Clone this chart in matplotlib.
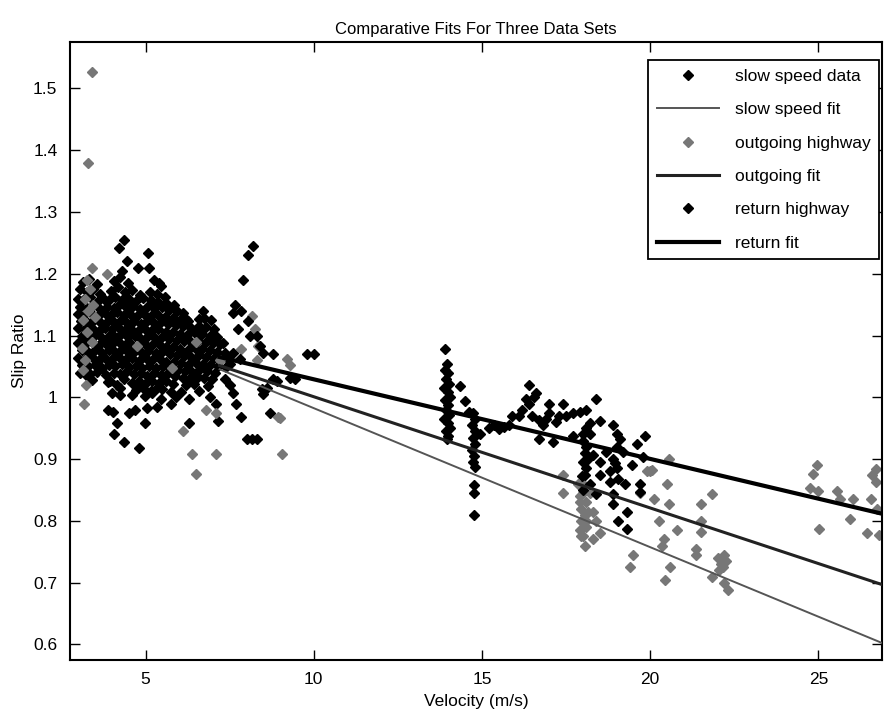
import matplotlib
matplotlib.use("Agg")
import matplotlib.pyplot as plt
from matplotlib.ticker import FuncFormatter

plt.rcParams['font.family'] = ['Liberation Sans', 'DejaVu Sans']

# velocity (m/s), slip ratio
slow_speed = [
    (3.15, 1.187), (3.32, 1.192), (3.55, 1.183), (4.05, 1.188), (4.25, 1.195), (4.48, 1.185), (5.25, 1.19), (5.45, 1.18),
    (3.05, 1.175), (3.25, 1.17), (3.45, 1.176), (3.65, 1.168), (3.98, 1.172), (4.18, 1.178), (4.38, 1.17), (4.6, 1.174),
    (4.82, 1.166), (5.12, 1.171), (5.35, 1.168), (5.58, 1.163),
    (3.0, 1.16), (3.15, 1.158), (3.35, 1.162), (3.55, 1.155), (3.75, 1.16), (3.92, 1.157), (4.1, 1.163), (4.3, 1.158),
    (4.52, 1.16), (4.72, 1.156), (4.93, 1.161), (5.15, 1.157), (5.38, 1.155), (5.62, 1.152), (5.85, 1.15),
    (3.05, 1.147), (3.25, 1.145), (3.45, 1.149), (3.65, 1.143), (3.85, 1.147), (4.05, 1.145), (4.22, 1.15), (4.42, 1.146),
    (4.62, 1.148), (4.83, 1.143), (5.03, 1.147), (5.25, 1.144), (5.48, 1.146), (5.7, 1.141), (5.92, 1.139), (6.12, 1.136),
    (3.0, 1.135), (3.18, 1.133), (3.38, 1.137), (3.58, 1.132), (3.78, 1.136), (3.97, 1.134), (4.16, 1.138), (4.35, 1.133),
    (4.55, 1.135), (4.75, 1.131), (4.95, 1.135), (5.15, 1.132), (5.37, 1.134), (5.58, 1.13), (5.8, 1.128), (6.02, 1.126),
    (6.25, 1.124), (6.75, 1.128), (6.95, 1.125),
    (3.08, 1.123), (3.28, 1.121), (3.48, 1.125), (3.68, 1.12), (3.88, 1.124), (4.07, 1.122), (4.26, 1.126), (4.45, 1.121),
    (4.65, 1.123), (4.85, 1.119), (5.05, 1.123), (5.26, 1.12), (5.47, 1.122), (5.68, 1.118), (5.9, 1.117), (6.12, 1.115),
    (6.35, 1.113), (6.58, 1.116), (6.8, 1.114), (7.02, 1.111),
    (3.0, 1.112), (3.2, 1.11), (3.4, 1.113), (3.6, 1.108), (3.8, 1.112), (4.0, 1.11), (4.18, 1.114), (4.38, 1.109),
    (4.57, 1.111), (4.77, 1.107), (4.97, 1.111), (5.17, 1.108), (5.38, 1.11), (5.6, 1.106), (5.8, 1.105), (6.02, 1.103),
    (6.24, 1.101), (6.46, 1.104), (6.68, 1.102), (6.9, 1.1), (7.12, 1.098),
    (3.1, 1.1), (3.3, 1.098), (3.5, 1.101), (3.7, 1.096), (3.9, 1.1), (4.1, 1.098), (4.28, 1.102), (4.48, 1.097),
    (4.67, 1.099), (4.87, 1.095), (5.07, 1.099), (5.28, 1.096), (5.5, 1.098), (5.7, 1.094), (5.92, 1.093), (6.13, 1.091),
    (6.35, 1.089), (6.57, 1.092), (6.79, 1.09), (7.0, 1.088), (7.22, 1.086),
    (3.0, 1.088), (3.2, 1.086), (3.4, 1.089), (3.6, 1.084), (3.8, 1.088), (4.0, 1.086), (4.2, 1.09), (4.38, 1.085),
    (4.58, 1.087), (4.78, 1.083), (4.98, 1.087), (5.18, 1.084), (5.4, 1.086), (5.6, 1.082), (5.82, 1.081), (6.03, 1.079),
    (6.25, 1.077), (6.47, 1.08), (6.68, 1.078), (6.9, 1.076), (7.12, 1.074), (7.35, 1.072),
    (3.1, 1.076), (3.3, 1.074), (3.5, 1.077), (3.7, 1.072), (3.9, 1.076), (4.1, 1.074), (4.3, 1.078), (4.48, 1.073),
    (4.68, 1.075), (4.88, 1.071), (5.08, 1.075), (5.3, 1.072), (5.5, 1.074), (5.72, 1.07), (5.93, 1.069), (6.14, 1.067),
    (6.36, 1.065), (6.58, 1.068), (6.8, 1.066), (7.02, 1.064), (7.25, 1.062), (7.48, 1.06),
    (3.0, 1.064), (3.2, 1.062), (3.4, 1.065), (3.6, 1.06), (3.8, 1.064), (4.0, 1.062), (4.2, 1.066), (4.4, 1.061),
    (4.6, 1.063), (4.8, 1.059), (5.0, 1.063), (5.2, 1.06), (5.42, 1.062), (5.62, 1.058), (5.84, 1.057), (6.05, 1.055),
    (6.27, 1.053), (6.49, 1.056), (6.7, 1.054), (6.92, 1.052), (7.14, 1.05), (7.38, 1.049),
    (3.1, 1.052), (3.3, 1.05), (3.5, 1.053), (3.7, 1.048), (3.9, 1.052), (4.1, 1.05), (4.3, 1.054), (4.5, 1.049),
    (4.7, 1.051), (4.9, 1.047), (5.1, 1.051), (5.32, 1.048), (5.52, 1.05), (5.74, 1.046), (5.95, 1.045), (6.16, 1.043),
    (6.38, 1.041), (6.6, 1.044), (6.82, 1.042), (7.05, 1.04),
    (3.05, 1.04), (3.35, 1.038), (3.55, 1.041), (3.82, 1.036), (4.05, 1.04), (4.25, 1.038), (4.45, 1.042), (4.65, 1.037),
    (4.85, 1.039), (5.05, 1.035), (5.25, 1.039), (5.45, 1.036), (5.65, 1.038), (5.88, 1.034), (6.1, 1.032), (6.3, 1.03),
    (6.55, 1.033), (6.75, 1.031), (6.98, 1.029),
    (3.4, 1.028), (3.95, 1.026), (4.35, 1.029), (4.6, 1.024), (4.8, 1.027), (5.0, 1.023), (5.2, 1.027), (5.4, 1.024),
    (5.6, 1.026), (5.8, 1.022), (6.2, 1.02), (6.45, 1.022), (6.85, 1.018),
    (4.25, 1.015), (4.7, 1.012), (4.95, 1.014), (5.15, 1.011), (5.5, 1.013), (5.75, 1.009), (6.05, 1.008), (6.6, 1.01),
    # scattered above and below the main cloud
    (4.2, 1.242), (4.35, 1.254), (5.06, 1.234), (4.46, 1.22), (4.3, 1.205), (4.76, 1.21), (5.1, 1.21), (5.4, 1.185),
    (6.7, 1.14), (6.6, 1.127), (6.2, 1.127),
    (3.27, 1.034), (3.87, 1.025), (4.14, 1.02), (4.0, 1.007), (4.23, 1.004), (4.6, 1.004), (3.87, 0.98), (4.02, 0.977),
    (4.14, 0.958), (4.05, 0.94), (4.37, 0.928), (4.8, 0.918), (4.52, 0.974), (4.67, 0.98), (4.97, 0.958), (4.97, 1.002),
    (5.03, 0.982), (5.33, 0.985), (5.33, 1.015), (4.88, 1.02), (5.2, 1.007), (5.74, 0.99), (5.47, 0.998), (6.3, 0.997),
    (6.3, 0.958), (7.1, 0.99), (7.15, 0.961), (5.9, 1.0), (6.9, 1.0),
]

outgoing = [
    (3.4, 1.527), (3.3, 1.38), (3.4, 1.21), (3.84, 1.2), (3.25, 1.19), (3.35, 1.175), (3.2, 1.16), (3.45, 1.15),
    (3.3, 1.14), (3.15, 1.125), (3.5, 1.13), (3.25, 1.105), (3.4, 1.09), (3.1, 1.08), (3.2, 1.06), (3.15, 1.045),
    (3.24, 1.02), (3.18, 0.99), (4.73, 1.083), (5.77, 1.047), (6.5, 1.09),
    (7.2, 1.06), (6.1, 0.945), (6.37, 0.909), (6.5, 0.876), (6.8, 0.98), (7.1, 0.975), (7.1, 0.909),
    (7.85, 1.078), (8.15, 1.132), (8.25, 1.11), (8.35, 1.083), (8.3, 1.06), (8.93, 0.969), (9.05, 0.909), (9.2, 1.062),
    (9.3, 1.052), (9.0, 0.966),
    (17.4, 0.875), (17.4, 0.845), (17.85, 0.86), (17.9, 0.84), (17.95, 0.82), (18.0, 0.8), (17.9, 0.785), (18.1, 0.83),
    (18.05, 0.81), (18.0, 0.86), (18.1, 0.79), (17.95, 0.775), (18.05, 0.76), (18.3, 0.77), (18.3, 0.815), (18.5, 0.78),
    (18.4, 0.8), (18.2, 0.845), (17.9, 0.83), (18.0, 0.845), (18.1, 0.8), (17.95, 0.8), (18.15, 0.815), (18.0, 0.775),
    (19.4, 0.725), (19.5, 0.745), (19.7, 0.845), (19.9, 0.88), (20.0, 0.88), (20.05, 0.883), (20.55, 0.9), (20.5, 0.86),
    (20.1, 0.835), (20.55, 0.828), (20.25, 0.8), (20.8, 0.785), (20.4, 0.77), (20.35, 0.76), (20.6, 0.725), (20.45, 0.705),
    (21.5, 0.828), (21.5, 0.8), (21.5, 0.782), (21.85, 0.844), (21.35, 0.755), (21.35, 0.745), (21.85, 0.71), (22.0, 0.74),
    (22.1, 0.73), (22.2, 0.745), (22.05, 0.72), (22.25, 0.735), (22.15, 0.725), (22.2, 0.7), (22.3, 0.688),
    (24.97, 0.89), (24.85, 0.876), (24.76, 0.853), (25.0, 0.849), (25.03, 0.787), (25.55, 0.849), (25.65, 0.836),
    (26.04, 0.836), (25.95, 0.803), (26.55, 0.836), (26.45, 0.78), (26.7, 0.884), (26.6, 0.875), (26.7, 0.863),
    (26.75, 0.82), (26.8, 0.777),
]

return_hwy = [
    (7.65, 1.15), (7.6, 1.137), (7.85, 1.14), (7.75, 1.11), (8.05, 1.123), (8.1, 1.099), (8.3, 1.1), (8.4, 1.083),
    (8.5, 1.071), (8.8, 1.07), (7.6, 1.071), (7.3, 1.088), (7.5, 1.054), (7.8, 1.062), (8.45, 1.013), (8.5, 1.005),
    (8.6, 1.015), (8.8, 1.03), (9.3, 1.031), (8.9, 1.026), (9.45, 1.03), (9.8, 1.07), (10.0, 1.07),
    (8.2, 1.245), (8.05, 1.23), (7.9, 1.19), (8.0, 0.933), (8.15, 0.933), (8.3, 0.933), (8.7, 0.974), (7.5, 1.02),
    (7.6, 1.007), (7.35, 1.03), (7.7, 0.99), (7.85, 0.969),
    (13.9, 1.078), (13.95, 1.054), (13.9, 1.045), (14.0, 1.04), (13.92, 1.03), (14.02, 1.022), (13.88, 1.015),
    (13.98, 1.008), (14.05, 1.0), (13.9, 0.995), (14.0, 0.988), (13.93, 0.98), (14.03, 0.972), (13.88, 0.965),
    (13.98, 0.958), (14.05, 0.95), (13.92, 0.945), (14.0, 0.938), (13.95, 0.932), (14.35, 1.018), (14.5, 0.994),
    (14.6, 0.977),
    (14.72, 0.975), (14.78, 0.965), (14.7, 0.955), (14.8, 0.945), (14.73, 0.935), (14.78, 0.925), (14.7, 0.915),
    (14.76, 0.905), (14.72, 0.895), (14.78, 0.887), (14.75, 0.858), (14.75, 0.846), (14.75, 0.81),
    (14.95, 0.94), (15.2, 0.95), (15.35, 0.955), (15.5, 0.948), (15.65, 0.952), (15.8, 0.956), (15.9, 0.97), (16.1, 0.97),
    (16.4, 1.02), (16.6, 1.007), (16.3, 0.997), (16.4, 0.989), (16.5, 0.97), (16.7, 0.964), (16.8, 0.956), (16.7, 0.933),
    (17.0, 0.989), (17.0, 0.974), (17.1, 0.928), (17.4, 0.989), (17.3, 0.97), (17.5, 0.97), (17.7, 0.974), (17.7, 0.937),
    (17.9, 0.977), (18.1, 0.98), (18.4, 0.997), (18.2, 0.958), (18.5, 0.961), (16.2, 0.98), (16.55, 1.0), (16.9, 0.965),
    (17.2, 0.96),
    (18.0, 0.93), (18.1, 0.92), (18.05, 0.91), (18.15, 0.9), (18.0, 0.895), (18.1, 0.885), (18.05, 0.875), (17.97, 0.872),
    (18.0, 0.85), (18.2, 0.86), (18.4, 0.844), (18.5, 0.874), (18.3, 0.907), (18.5, 0.896), (18.2, 0.94), (18.1, 0.95),
    (18.0, 0.94),
    (18.7, 0.912), (18.9, 0.9), (19.0, 0.885), (18.9, 0.956), (19.1, 0.933), (18.95, 0.893), (19.2, 0.912), (19.05, 0.868),
    (19.25, 0.86), (18.9, 0.828), (19.3, 0.815), (19.05, 0.8), (19.3, 0.787), (19.45, 0.89), (19.7, 0.86), (19.7, 0.847),
    (19.6, 0.925), (19.85, 0.937), (19.8, 0.904), (18.8, 0.863), (18.9, 0.844), (19.0, 0.94), (19.0, 0.92), (18.8, 0.88),
]

# linear fits: slip = intercept + slope * velocity
fit_names = ['slow speed fit', 'outgoing fit', 'return fit']
fit_intercept = [1.2075, 1.181, 1.158]
fit_slope = [-0.0225, -0.018, -0.01288]
fit_range = [7.2, 27.0]

fig = plt.figure(figsize=(8.85, 7.26), dpi=100)
ax = fig.add_axes([0.079, 0.091, 0.918, 0.851])

def scatter(points, color, label):
    v = [p[0] for p in points]
    s = [p[1] for p in points]
    ax.plot(v, s, linestyle='none', marker='D', ms=4.8, color=color, mec=color, label=label)

def fit_line(i, color, lw):
    s = [fit_intercept[i] + fit_slope[i] * v for v in fit_range]
    ax.plot(fit_range, s, color=color, lw=lw, label=fit_names[i], zorder=5)

scatter(slow_speed, 'black', 'slow speed data')
fit_line(0, '#555555', 1.4)
scatter(outgoing, '#777777', 'outgoing highway')
fit_line(1, '#222222', 2.2)
scatter(return_hwy, 'black', 'return highway')
fit_line(2, 'black', 3.0)

ax.set_xlim(2.75, 26.9)
ax.set_ylim(0.575, 1.575)
ax.set_xticks([5, 10, 15, 20, 25])
ax.set_yticks([0.6, 0.7, 0.8, 0.9, 1.0, 1.1, 1.2, 1.3, 1.4, 1.5])
ax.yaxis.set_major_formatter(FuncFormatter(lambda val, pos: '%g' % round(val, 2)))
ax.tick_params(direction='in', length=7, width=1, top=True, right=True, labelsize=12.5, pad=9)
for sp in ax.spines.values():
    sp.set_linewidth(1.5)

ax.set_title('Comparative Fits For Three Data Sets', fontsize=12, pad=6)
ax.set_xlabel('Velocity (m/s)', fontsize=12.5, labelpad=5)
ax.set_ylabel('Slip Ratio', fontsize=12.5, labelpad=4)

leg = ax.legend(loc='upper right', bbox_to_anchor=(0.996, 0.971), borderaxespad=0, numpoints=1,
                fontsize=12.5, handlelength=3.6, handletextpad=0.9, labelspacing=1.05, borderpad=0.5,
                fancybox=False, framealpha=1)
leg.get_frame().set_edgecolor('black')
leg.get_frame().set_linewidth(1.3)

plt.savefig('out.png', dpi=100)
